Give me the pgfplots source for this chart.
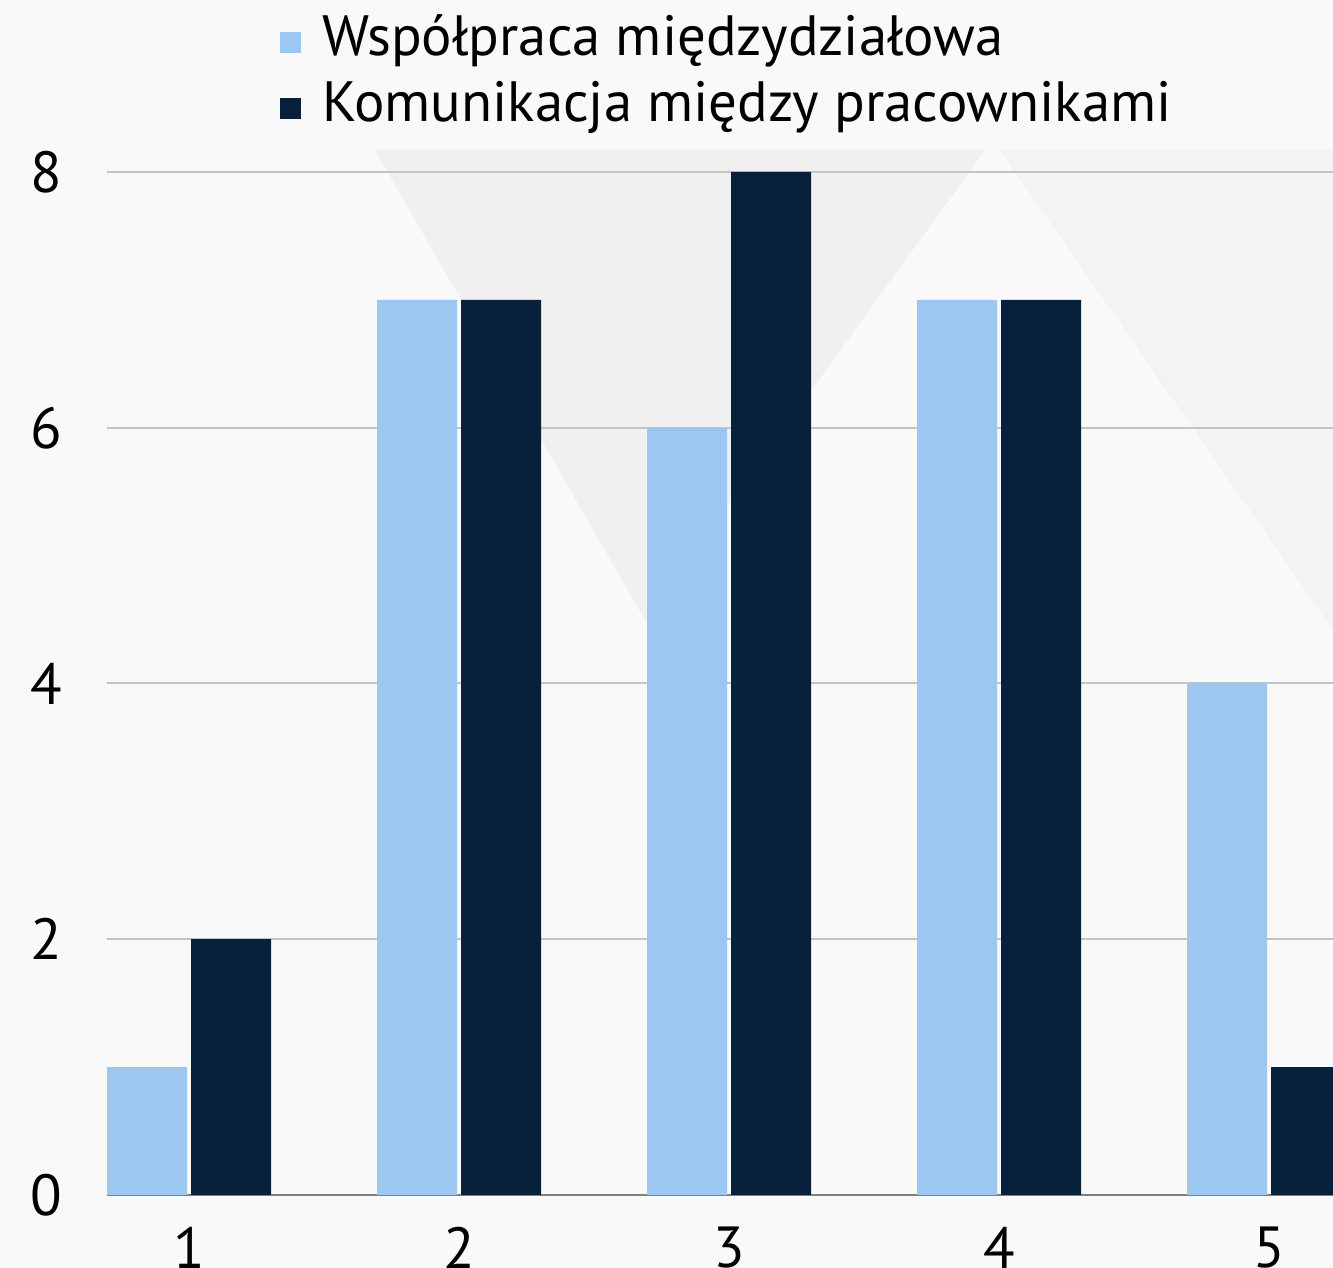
\documentclass[border=0pt]{standalone}
\usepackage{pgfplots}
\pgfplotsset{compat=1.18}
\usepackage{fontspec}
\setmainfont{PT Sans}
\definecolor{lightbar}{HTML}{9CC7F0}
\definecolor{darkbar}{HTML}{07213C}
\definecolor{gridc}{HTML}{C4C4C4}
\definecolor{bgA}{HTML}{F9F9F9}
\definecolor{bgB}{HTML}{F0F0F0}
\definecolor{bgC}{HTML}{F3F3F3}
\begin{document}
\begin{tikzpicture}
\useasboundingbox (0,0) rectangle (666.5pt,634pt);
\clip (0,0) rectangle (666.5pt,634pt);
\fill[bgA] (0,0) rectangle (666.5pt,634pt);
\fill[bgB] (187.5pt,559pt) -- (492.5pt,559pt) -- (322.5pt,324pt) -- cycle;
\fill[bgC] (500pt,559pt) -- (666.5pt,559pt) -- (666.5pt,319pt) -- cycle;
\begin{axis}[
  at={(53.5pt,36.5pt)}, anchor=south west,
  scale only axis, width=613pt, height=511.5pt,
  xmin=0.696, xmax=5.237, ymin=0, ymax=8,
  ybar, bar width=40pt,
  xtick={1,2,3,4,5}, ytick={0,2,4,6,8},
  ymajorgrids, grid style={gridc, line width=1pt},
  axis lines*=left,
  y axis line style={draw=none},
  x axis line style={draw=gray, line width=1pt},
  major tick length=0pt,
  /pgf/number format/assume math mode=true,
  tick label style={font=\fontsize{29}{34}\selectfont},
  yticklabel style={inner sep=0pt, xshift=-22pt},
  xticklabel style={inner sep=0pt, yshift=-16pt},
  legend style={at={(0.1411,1.1535)}, anchor=north west, draw=none, fill=none,
    inner sep=0pt, font=\fontsize{28.4}{33}\selectfont, cells={anchor=west},
    nodes={inner sep=0pt, text height=20pt, text depth=6pt},
    row sep=7pt,
    /tikz/every odd column/.append style={column sep=10.5pt}},
  legend image code/.code={\fill[#1] (0pt,-6pt) rectangle (10.5pt,4.5pt);},
]
\addplot[fill=lightbar, draw=none, bar shift=-21pt] coordinates {(1,1) (2,7) (3,6) (4,7) (5,4)};
\addlegendentry{Współpraca międzydziałowa}
\addplot[fill=darkbar, draw=none, bar shift=21pt] coordinates {(1,2) (2,7) (3,8) (4,7) (5,1)};
\addlegendentry{Komunikacja między pracownikami}
\end{axis}
\end{tikzpicture}
\end{document}
